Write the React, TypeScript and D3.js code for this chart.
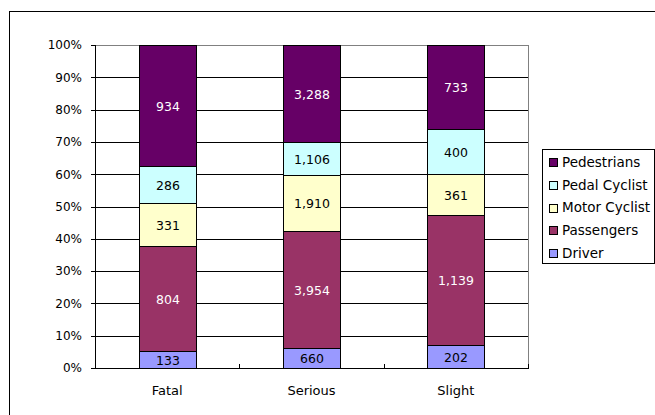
import React from "react";
import * as d3 from "d3";

// Casualty counts by severity and road-user type
const categories = ["Fatal", "Serious", "Slight"];
const seriesNames = ["Driver", "Passengers", "Motor Cyclist", "Pedal Cyclist", "Pedestrians"];
const driver = [133, 660, 202];
const passengers = [804, 3954, 1139];
const motorCyclist = [331, 1910, 361];
const pedalCyclist = [286, 1106, 400];
const pedestrians = [934, 3288, 733];
const yTicks = [0, 0.1, 0.2, 0.3, 0.4, 0.5, 0.6, 0.7, 0.8, 0.9, 1];

const seriesValues = [driver, passengers, motorCyclist, pedalCyclist, pedestrians];
const fills = ["#9999FF", "#993366", "#FFFFCC", "#CCFFFF", "#660066"];
const labelColors = ["#000", "#fff", "#000", "#000", "#fff"];

const W = 655;
const H = 415;
const plot = { left: 95, right: 528, top: 45, bottom: 368 };
const FONT = "'DejaVu Sans', sans-serif";

export default function App() {
  const x = d3
    .scaleBand<string>()
    .domain(categories)
    .range([plot.left, plot.right])
    .paddingInner(0.605)
    .paddingOuter(0.3025);
  const y = d3.scaleLinear().domain([0, 1]).range([plot.bottom, plot.top]);
  const step = (plot.right - plot.left) / categories.length;

  const rows = categories.map((c, i) => {
    const row: Record<string, number | string> = { category: c };
    seriesNames.forEach((s, j) => (row[s] = seriesValues[j][i]));
    return row;
  });
  const stacked = d3
    .stack<Record<string, number | string>>()
    .keys(seriesNames)
    .offset(d3.stackOffsetExpand)(rows as any);

  const fmt = d3.format(",");

  return (
    <svg
      width={W}
      height={H}
      style={{ position: "absolute", left: 0, top: 0, background: "#fff" }}
      fontFamily={FONT}
    >
      {/* chart frame */}
      <rect x={9.5} y={11.5} width={W} height={H} fill="#fff" stroke="#000" strokeWidth={1} />

      {/* gridlines */}
      {yTicks.map((t) => (
        <line
          key={t}
          x1={plot.left}
          x2={plot.right}
          y1={Math.round(y(t)) + 0.5}
          y2={Math.round(y(t)) + 0.5}
          stroke={t === 1 ? "#808080" : "#000"}
          strokeWidth={1}
        />
      ))}
      {/* plot area right border */}
      <line x1={plot.right + 0.5} x2={plot.right + 0.5} y1={plot.top} y2={plot.bottom} stroke="#808080" />

      {/* bars */}
      {stacked.map((layer, j) =>
        layer.map((d, i) => {
          const x0 = Math.round(x(categories[i])!) + 0.5;
          const bw = Math.round(x.bandwidth());
          const y0 = Math.round(y(d[1])) + 0.5;
          const y1 = Math.round(y(d[0])) + 0.5;
          return (
            <g key={`${j}-${i}`}>
              <rect x={x0} y={y0} width={bw} height={y1 - y0} fill={fills[j]} stroke="#000" strokeWidth={1} />
              <text
                x={x0 + bw / 2}
                y={(y0 + y1) / 2}
                dy="0.36em"
                textAnchor="middle"
                fontSize={12.5}
                fill={labelColors[j]}
              >
                {fmt(seriesValues[j][i])}
              </text>
            </g>
          );
        })
      )}

      {/* axes */}
      <line x1={plot.left + 0.5} x2={plot.left + 0.5} y1={plot.top} y2={plot.bottom + 1} stroke="#000" />
      <line x1={plot.left} x2={plot.right + 1} y1={plot.bottom + 0.5} y2={plot.bottom + 0.5} stroke="#000" />
      {yTicks.map((t) => (
        <g key={`yt${t}`}>
          <line
            x1={plot.left - 4}
            x2={plot.left}
            y1={Math.round(y(t)) + 0.5}
            y2={Math.round(y(t)) + 0.5}
            stroke="#000"
          />
          <text x={82} y={y(t)} dy="0.36em" textAnchor="end" fontSize={12} fill="#000">
            {d3.format(".0%")(t)}
          </text>
        </g>
      ))}
      {d3.range(categories.length + 1).map((k) => (
        <line
          key={`xt${k}`}
          x1={Math.round(plot.left + k * step) + 0.5}
          x2={Math.round(plot.left + k * step) + 0.5}
          y1={plot.bottom - 4}
          y2={plot.bottom}
          stroke="#000"
        />
      ))}
      {categories.map((c) => (
        <text
          key={c}
          x={x(c)! + x.bandwidth() / 2}
          y={395}
          textAnchor="middle"
          fontSize={13}
          fill="#000"
        >
          {c}
        </text>
      ))}

      {/* legend */}
      <rect x={542.5} y={149.5} width={112} height={114} fill="#fff" stroke="#000" />
      {seriesNames
        .slice()
        .reverse()
        .map((s, k) => {
          const j = seriesNames.length - 1 - k;
          const cy = 162 + k * 22.8;
          return (
            <g key={s}>
              <rect
                x={549.5}
                y={Math.round(cy - 4) + 0.5}
                width={8}
                height={8}
                fill={fills[j]}
                stroke="#000"
              />
              <text x={562} y={cy} dy="0.36em" fontSize={13.5} fill="#000">
                {s}
              </text>
            </g>
          );
        })}
    </svg>
  );
}
